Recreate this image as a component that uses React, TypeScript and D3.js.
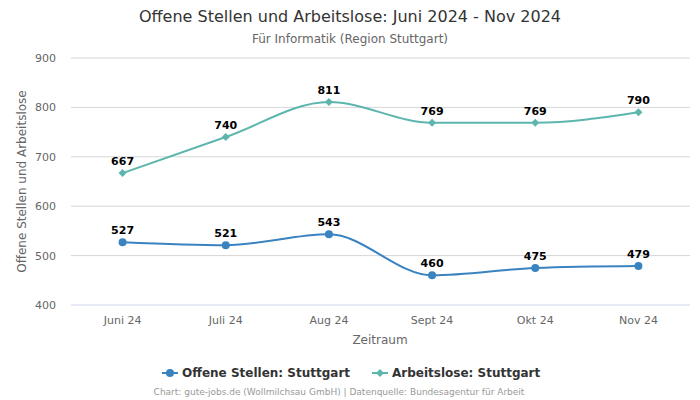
import React from "react";
import * as d3 from "d3";

const categories = ["Juni 24", "Juli 24", "Aug 24", "Sept 24", "Okt 24", "Nov 24"];
const offeneStellen = [527, 521, 543, 460, 475, 479];
const arbeitslose = [667, 740, 811, 769, 769, 790];
const yTicks = [400, 500, 600, 700, 800, 900];

const W = 700, H = 400;
const left = 71, right = 690, top = 58, bottom = 305;
const FONT = "'DejaVu Sans', Verdana, sans-serif";
const BLUE = "#3a83c1";
const TEAL = "#5cb6ae";

export default function App() {
  const x = d3.scalePoint<string>().domain(categories).range([left, right]).padding(0.5);
  const y = d3.scaleLinear().domain([400, 900]).range([bottom, top]);
  const line = d3
    .line<number>()
    .x((_, i) => x(categories[i]) as number)
    .y((d) => y(d))
    .curve(d3.curveMonotoneX);

  const diamond = (cx: number, cy: number, r: number) =>
    `M${cx},${cy - r}L${cx + r},${cy}L${cx},${cy + r}L${cx - r},${cy}Z`;

  return (
    <svg width={W} height={H} style={{ position: "absolute", left: 0, top: 0 }} fontFamily={FONT}>
      <rect width={W} height={H} fill="#fff" />
      <text x={350} y={22} textAnchor="middle" fontSize={16} fill="#333">
        Offene Stellen und Arbeitslose: Juni 2024 - Nov 2024
      </text>
      <text x={350} y={43} textAnchor="middle" fontSize={12} fill="#666">
        Für Informatik (Region Stuttgart)
      </text>
      {yTicks.map((t) => (
        <g key={t}>
          <line x1={left} x2={right} y1={y(t)} y2={y(t)} stroke={t === 400 ? "#ccd6eb" : "#d6d6d6"} strokeWidth={1} />
          <text x={56} y={y(t) + 4} textAnchor="end" fontSize={11} fill="#666">
            {t}
          </text>
        </g>
      ))}
      {categories.map((c) => (
        <text key={c} x={x(c)} y={324} textAnchor="middle" fontSize={11} fill="#666">
          {c}
        </text>
      ))}
      <text x={380} y={344} textAnchor="middle" fontSize={12} fill="#666">
        Zeitraum
      </text>
      <text
        transform={`translate(26,${(top + bottom) / 2}) rotate(-90)`}
        textAnchor="middle"
        fontSize={12}
        fill="#666"
      >
        Offene Stellen und Arbeitslose
      </text>

      <path d={line(arbeitslose) || ""} fill="none" stroke={TEAL} strokeWidth={2} />
      <path d={line(offeneStellen) || ""} fill="none" stroke={BLUE} strokeWidth={2} />

      {arbeitslose.map((v, i) => {
        const cx = x(categories[i]) as number;
        const cy = y(v);
        return (
          <g key={"a" + i}>
            <path d={diamond(cx, cy, 4)} fill={TEAL} />
            <text x={cx} y={cy - 8} textAnchor="middle" fontSize={11} fontWeight="bold" fill="#000">
              {v}
            </text>
          </g>
        );
      })}
      {offeneStellen.map((v, i) => {
        const cx = x(categories[i]) as number;
        const cy = y(v);
        return (
          <g key={"o" + i}>
            <circle cx={cx} cy={cy} r={4} fill={BLUE} />
            <text x={cx} y={cy - 8} textAnchor="middle" fontSize={11} fontWeight="bold" fill="#000">
              {v}
            </text>
          </g>
        );
      })}

      <g>
        <line x1={162} x2={178} y1={373} y2={373} stroke={BLUE} strokeWidth={2} />
        <circle cx={170} cy={373} r={4} fill={BLUE} />
        <text x={182} y={377} fontSize={12} fontWeight="bold" fill="#333">
          Offene Stellen: Stuttgart
        </text>
        <line x1={372} x2={388} y1={373} y2={373} stroke={TEAL} strokeWidth={2} />
        <path d={diamond(380, 373, 4)} fill={TEAL} />
        <text x={392} y={377} fontSize={12} fontWeight="bold" fill="#333">
          Arbeitslose: Stuttgart
        </text>
      </g>
      <text x={339} y={395} textAnchor="middle" fontSize={9} fill="#999">
        Chart: gute-jobs.de (Wollmilchsau GmbH) | Datenquelle: Bundesagentur für Arbeit
      </text>
    </svg>
  );
}
